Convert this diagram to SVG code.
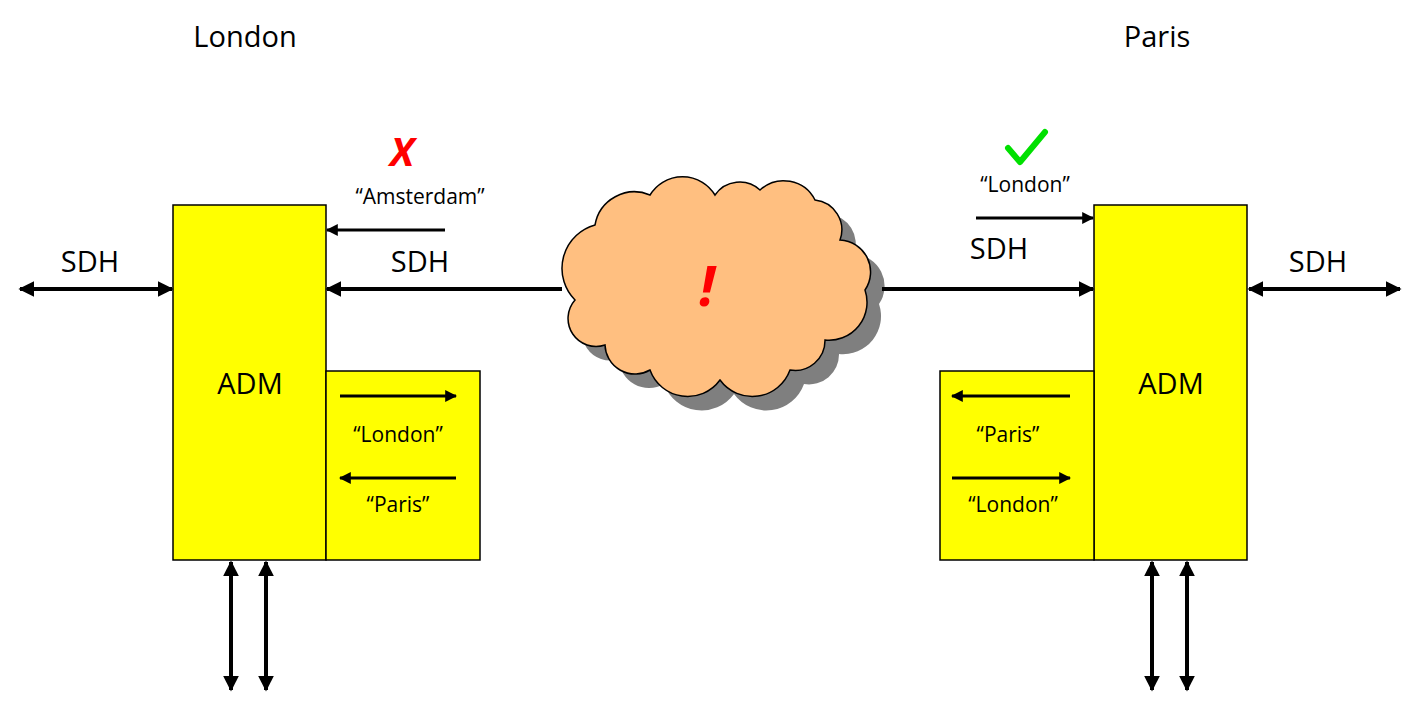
<svg xmlns="http://www.w3.org/2000/svg" width="1420" height="710" viewBox="0 0 1420 710">
<style>
.box{fill:#FFFF00;stroke:#000;stroke-width:1.5}
.ln{stroke:#000;stroke-width:4;fill:none}
.thin{stroke:#000;stroke-width:3;fill:none}
text{font-family:"Open Sans","Liberation Sans",sans-serif;fill:#000}
.big{font-size:29px}
.sm{font-size:21px}
</style>
<defs>
<marker id="a" viewBox="0 0 10 10" refX="9" refY="5" markerWidth="4" markerHeight="4" orient="auto-start-reverse"><path d="M0,0L10,5L0,10z" fill="#000"/></marker>
<path id="cloud" d="M575,300 A45,45 0 0 1 595,225 A40,40 0 0 1 650,195 A38,38 0 0 1 715,195 A30,30 0 0 1 760,190 A35,35 0 0 1 815,200 A30,30 0 0 1 840,240 A32,32 0 0 1 865,290 A38,38 0 0 1 825,340 A30,30 0 0 1 790,370 A40,40 0 0 1 720,380 A40,40 0 0 1 650,370 A30,30 0 0 1 605,345 A28,28 0 0 1 575,300 Z"/>
</defs>
<g id="labels">
<text x="245" y="47" class="big" text-anchor="middle">London</text>
<text x="1157" y="47" class="big" text-anchor="middle">Paris</text>
<text x="90" y="272" class="big" text-anchor="middle">SDH</text>
<text x="420" y="272" class="big" text-anchor="middle">SDH</text>
<text x="999" y="259" class="big" text-anchor="middle">SDH</text>
<text x="1318" y="272" class="big" text-anchor="middle">SDH</text>
<text x="420" y="204" class="sm" text-anchor="middle">“Amsterdam”</text>
<text x="1025" y="192" class="sm" text-anchor="middle">“London”</text>
<text x="402" y="166" font-size="40" font-weight="bold" font-style="italic" fill="#FF0000" style="fill:#FF0000" text-anchor="middle">X</text>
<path d="M1008,148 L1020,162 L1045,132" stroke="#00E000" stroke-width="6" fill="none" stroke-linecap="round" stroke-linejoin="round"/>
</g>
<g id="cloudnode">
<use href="#cloud" transform="translate(14,14)" fill="#7F7F7F"/>
<use href="#cloud" fill="#FFBF80" stroke="#000" stroke-width="1.5"/>
<text x="707" y="306" font-size="56" font-weight="bold" font-style="italic" style="fill:#FF0000" text-anchor="middle">!</text>
</g>
<g id="admL">
<rect class="box" x="173" y="205" width="153" height="355"/>
<text x="250" y="394" class="big" text-anchor="middle">ADM</text>
</g>
<g id="subL">
<rect class="box" x="326" y="371" width="154" height="189"/>
<text x="398" y="442" class="sm" text-anchor="middle">“London”</text>
<text x="398" y="512" class="sm" text-anchor="middle">“Paris”</text>
</g>
<g id="admR">
<rect class="box" x="1094" y="205" width="153" height="355"/>
<text x="1171" y="394" class="big" text-anchor="middle">ADM</text>
</g>
<g id="subR">
<rect class="box" x="940" y="371" width="154" height="189"/>
<text x="1008" y="442" class="sm" text-anchor="middle">“Paris”</text>
<text x="1013" y="512" class="sm" text-anchor="middle">“London”</text>
</g>
<g id="connectors">
<line class="ln" x1="20" y1="289" x2="172" y2="289" marker-start="url(#a)" marker-end="url(#a)"/>
<line class="ln" x1="562" y1="289" x2="327" y2="289" marker-end="url(#a)"/>
<line class="thin" x1="445" y1="230" x2="327" y2="230" marker-end="url(#a)"/>
<line class="ln" x1="882" y1="289" x2="1093" y2="289" marker-end="url(#a)"/>
<line class="thin" x1="976" y1="218" x2="1093" y2="218" marker-end="url(#a)"/>
<line class="ln" x1="1249" y1="289" x2="1400" y2="289" marker-start="url(#a)" marker-end="url(#a)"/>
<line class="thin" x1="340" y1="396" x2="456" y2="396" marker-end="url(#a)"/>
<line class="thin" x1="456" y1="478" x2="340" y2="478" marker-end="url(#a)"/>
<line class="thin" x1="1070" y1="396" x2="952" y2="396" marker-end="url(#a)"/>
<line class="thin" x1="952" y1="478" x2="1070" y2="478" marker-end="url(#a)"/>
<line class="ln" x1="231" y1="562" x2="231" y2="690" marker-start="url(#a)" marker-end="url(#a)"/>
<line class="ln" x1="266" y1="562" x2="266" y2="690" marker-start="url(#a)" marker-end="url(#a)"/>
<line class="ln" x1="1152" y1="562" x2="1152" y2="690" marker-start="url(#a)" marker-end="url(#a)"/>
<line class="ln" x1="1187" y1="562" x2="1187" y2="690" marker-start="url(#a)" marker-end="url(#a)"/>
</g>
</svg>
